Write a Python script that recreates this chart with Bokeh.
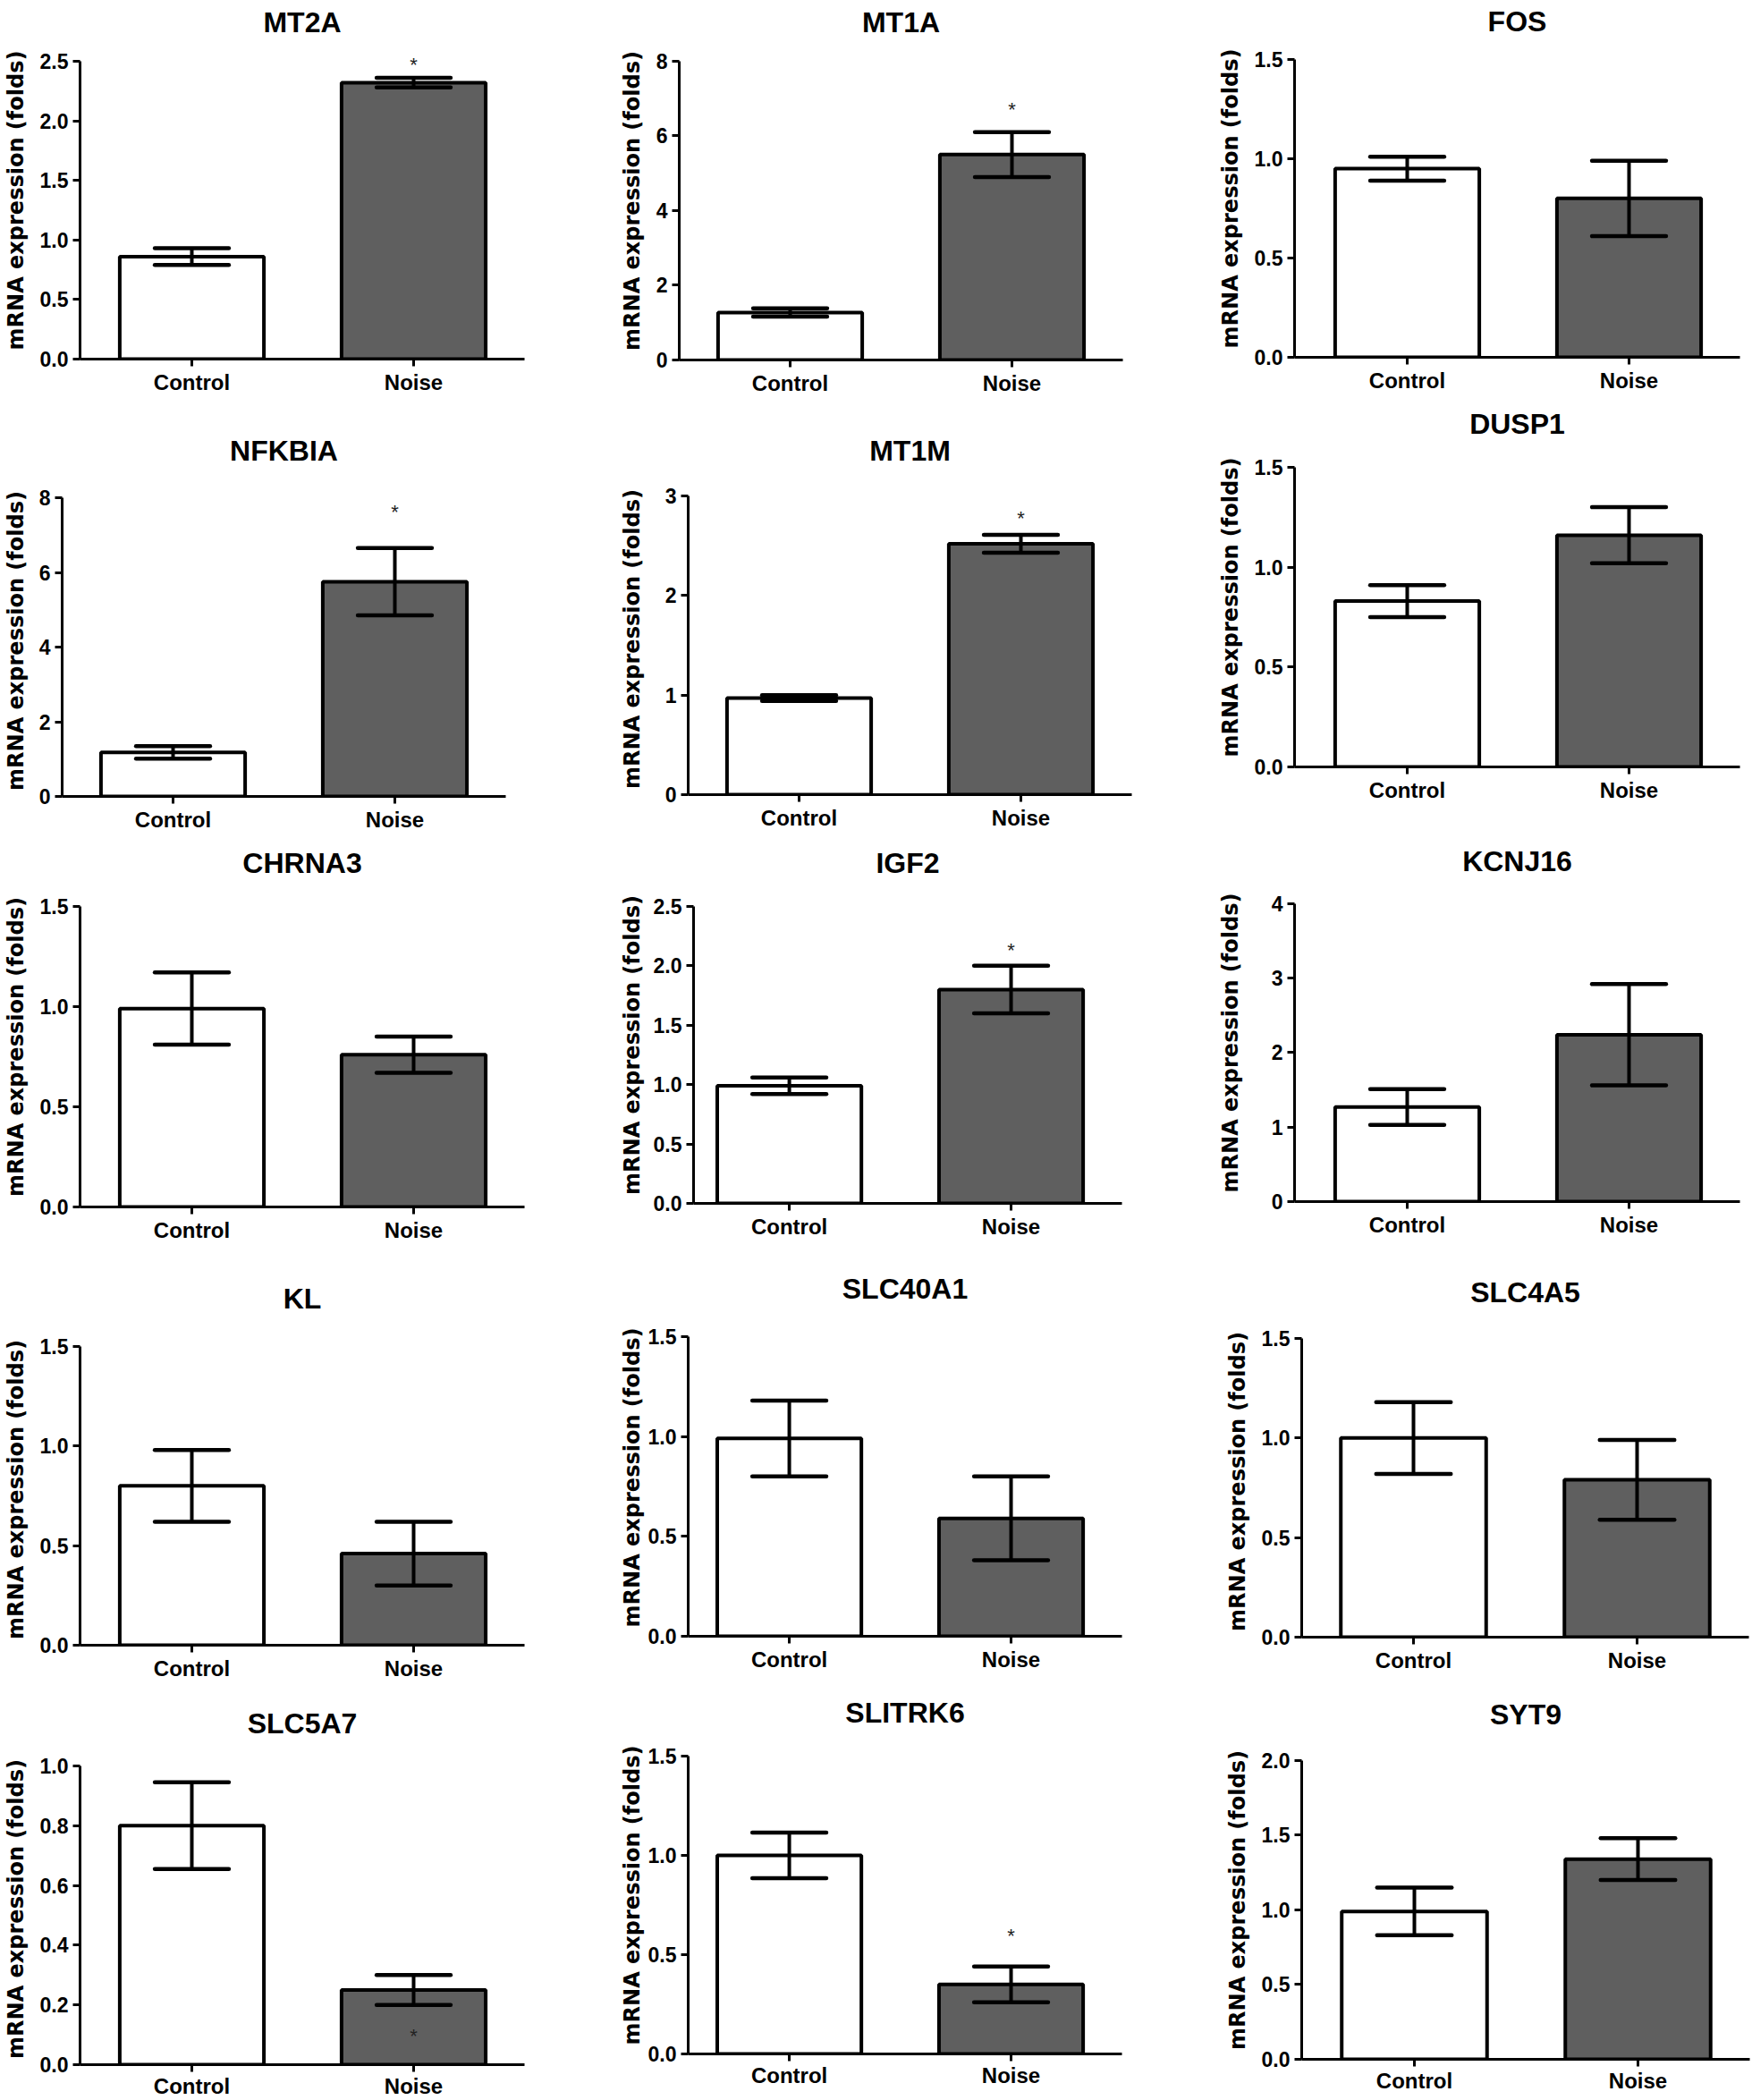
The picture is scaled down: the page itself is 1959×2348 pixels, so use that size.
from bokeh.plotting import figure
from bokeh.models import FixedTicker, Label, Range1d
from bokeh.layouts import row, column
from bokeh.embed import file_html
from bokeh.resources import INLINE

# ---------------- data ----------------
genes = ["MT2A", "MT1A", "FOS",
         "NFKBIA", "MT1M", "DUSP1",
         "CHRNA3", "IGF2", "KCNJ16",
         "KL", "SLC40A1", "SLC4A5",
         "SLC5A7", "SLITRK6", "SYT9"]
groups = ["Control", "Noise"]

y_max = [2.5, 8, 1.5,
         8, 3, 1.5,
         1.5, 2.5, 4,
         1.5, 1.5, 1.5,
         1.0, 1.5, 2.0]

y_ticks = [[0, 0.5, 1.0, 1.5, 2.0, 2.5], [0, 2, 4, 6, 8], [0, 0.5, 1.0, 1.5],
           [0, 2, 4, 6, 8], [0, 1, 2, 3], [0, 0.5, 1.0, 1.5],
           [0, 0.5, 1.0, 1.5], [0, 0.5, 1.0, 1.5, 2.0, 2.5], [0, 1, 2, 3, 4],
           [0, 0.5, 1.0, 1.5], [0, 0.5, 1.0, 1.5], [0, 0.5, 1.0, 1.5],
           [0, 0.2, 0.4, 0.6, 0.8, 1.0], [0, 0.5, 1.0, 1.5], [0, 0.5, 1.0, 1.5, 2.0]]

y_tick_labels = [["0.0", "0.5", "1.0", "1.5", "2.0", "2.5"], ["0", "2", "4", "6", "8"], ["0.0", "0.5", "1.0", "1.5"],
                 ["0", "2", "4", "6", "8"], ["0", "1", "2", "3"], ["0.0", "0.5", "1.0", "1.5"],
                 ["0.0", "0.5", "1.0", "1.5"], ["0.0", "0.5", "1.0", "1.5", "2.0", "2.5"], ["0", "1", "2", "3", "4"],
                 ["0.0", "0.5", "1.0", "1.5"], ["0.0", "0.5", "1.0", "1.5"], ["0.0", "0.5", "1.0", "1.5"],
                 ["0.0", "0.2", "0.4", "0.6", "0.8", "1.0"], ["0.0", "0.5", "1.0", "1.5"], ["0.0", "0.5", "1.0", "1.5", "2.0"]]

control_mean = [0.86, 1.27, 0.95,
                1.18, 0.97, 0.83,
                0.99, 0.99, 1.27,
                0.80, 0.99, 1.00,
                0.80, 1.00, 0.99]
control_sem = [0.07, 0.11, 0.06,
               0.17, 0.03, 0.08,
               0.18, 0.07, 0.24,
               0.18, 0.19, 0.18,
               0.145, 0.115, 0.16]
noise_mean = [2.32, 5.50, 0.80,
              5.75, 2.52, 1.16,
              0.76, 1.80, 2.24,
              0.46, 0.59, 0.79,
              0.25, 0.35, 1.34]
noise_sem = [0.04, 0.60, 0.19,
             0.90, 0.09, 0.14,
             0.09, 0.20, 0.68,
             0.16, 0.21, 0.20,
             0.05, 0.09, 0.14]
# height of the significance asterisk above Noise (None = no asterisk)
star_y = [2.49, 6.77, None,
          7.70, 2.80, None,
          None, 2.15, None,
          None, None, None,
          0.105, 0.61, None]

# ---------------- layout (page pixels, page origin = 0) ----------------
col_left = [0, 689, 1358]
col_width = [689, 669, 601]
row_bounds = [0, 445, 935, 1405, 1885, 2348]
axis_x = [85, 755, 1443,
          65, 765, 1443,
          85, 771, 1443,
          85, 765, 1455,
          85, 765, 1455]
ctrl_x = [211, 880, 1570,
          190, 890, 1570,
          211, 879, 1570,
          211, 879, 1580,
          211, 879, 1581]
label_cx = [17, 706, None]          # y-label glyph centre per column (None: axis - 68)
frame_top = [67, 67, 65,
             556, 554, 521,
             1012, 1012, 1009,
             1505, 1493, 1496,
             1974, 1962, 1967]
frame_zero = [401, 402, 399,
              890, 888, 857,
              1349, 1345, 1343,
              1839, 1829, 1830,
              2309, 2296, 2302]
title_cy = [15, 15, 15,
            506, 506, 472,
            963, 963, 958,
            1454, 1442, 1447,
            1929, 1913, 1914]
PX_PER_UNIT = 250.0
BAR_GRAY = "#5f5f5f"
TICK_FONT = "Liberation Sans"
YLAB_H = 28.0
TITLE_NEED = 37
TITLE_K = 15.5


def text_w(s, size=23):
    return sum(0.278 if ch == "." else 0.556 for ch in s) * size


rows = []
for r in range(5):
    figs = []
    rtop = row_bounds[r]
    rh = row_bounds[r + 1] - row_bounds[r]
    for c in range(3):
        i = r * 3 + c
        fl = col_left[c]
        fr = col_left[c] + col_width[c]
        A = axis_x[i]
        T = frame_top[i]
        Z = frame_zero[i]
        E = min(ctrl_x[i] + 1.5 * PX_PER_UNIT, fr)

        # title placement: text bottom sits standoff/2 above the frame top
        BB = title_cy[i] + TITLE_K
        pad = 14
        smax = T - pad - rtop - TITLE_NEED
        s = 2 * ((T - pad) - BB)
        if s > smax:
            pad = min(22, max(14, T + rtop + TITLE_NEED - 2 * BB))
            smax = T - pad - rtop - TITLE_NEED
            s = min(2 * ((T - pad) - BB), smax)
        s = max(0, s)

        mbl = A - fl
        mbr = fr - E
        top = T - pad
        mbt = top - rtop
        mbb = row_bounds[r + 1] - Z
        fh = Z - top
        x0 = 1 - (ctrl_x[i] - A) / PX_PER_UNIT
        x1 = 1 + (E - ctrl_x[i]) / PX_PER_UNIT
        y1 = y_max[i] * fh / (Z - T)

        p = figure(width=col_width[c], height=rh,
                   x_range=Range1d(x0, x1), y_range=Range1d(0, y1),
                   output_backend="svg", toolbar_location=None,
                   min_border_left=int(mbl), min_border_right=int(mbr),
                   min_border_top=int(mbt), min_border_bottom=int(mbb),
                   title=genes[i])
        p.frame_align = False
        p.title.align = "center"
        p.title.text_font = TICK_FONT
        p.title.text_font_style = "bold"
        p.title.text_font_size = "32px"
        p.title.text_color = "black"
        p.title.standoff = int(s)

        p.outline_line_color = None
        p.xgrid.grid_line_color = None
        p.ygrid.grid_line_color = None
        p.background_fill_color = "white"
        p.border_fill_color = "white"

        xs = [1, 2]
        means = [control_mean[i], noise_mean[i]]
        sems = [control_sem[i], noise_sem[i]]
        p.vbar(x=xs, top=means, width=0.65, bottom=0,
               fill_color=["white", BAR_GRAY], line_color="black", line_width=4)
        lo = [m - e for m, e in zip(means, sems)]
        hi = [m + e for m, e in zip(means, sems)]
        p.segment(x0=xs, y0=lo, x1=xs, y1=hi, line_color="black", line_width=4)
        cw = 0.167
        p.segment(x0=[x - cw for x in xs], y0=hi, x1=[x + cw for x in xs], y1=hi,
                  line_color="black", line_width=4.5, line_cap="round")
        p.segment(x0=[x - cw for x in xs], y0=lo, x1=[x + cw for x in xs], y1=lo,
                  line_color="black", line_width=4.5, line_cap="round")

        if star_y[i] is not None:
            p.add_layout(Label(x=2, y=star_y[i], text="*", text_align="center",
                               text_baseline="middle", text_font=TICK_FONT,
                               text_font_size="22px", text_color="#222222",
                               y_offset=-3))

        # x axis
        xa = p.xaxis[0]
        xa.ticker = FixedTicker(ticks=xs)
        xa.major_label_overrides = {1: groups[0], 2: groups[1]}
        xa.major_label_text_font = TICK_FONT
        xa.major_label_text_font_style = "bold"
        xa.major_label_text_font_size = "24px"
        xa.major_label_text_color = "black"
        xa.major_label_standoff = 2 if r == 4 else 4
        xa.major_tick_out = 8
        xa.major_tick_in = 0
        xa.minor_tick_out = 0
        xa.minor_tick_in = 0
        xa.axis_line_width = 3
        xa.major_tick_line_width = 3
        xa.axis_line_color = "black"
        xa.major_tick_line_color = "black"

        # y axis
        ya = p.yaxis[0]
        ya.bounds = (0, y_max[i])
        ya.ticker = FixedTicker(ticks=y_ticks[i])
        ya.major_label_overrides = {float(t): lab for t, lab in zip(y_ticks[i], y_tick_labels[i])}
        ya.major_label_text_font = TICK_FONT
        ya.major_label_text_font_style = "bold"
        ya.major_label_text_font_size = "23px"
        ya.major_label_text_color = "black"
        ya.major_label_standoff = 5
        ya.major_tick_out = 8
        ya.major_tick_in = 0
        ya.minor_tick_out = 0
        ya.minor_tick_in = 0
        ya.axis_line_width = 3
        ya.major_tick_line_width = 3
        ya.axis_line_color = "black"
        ya.major_tick_line_color = "black"
        ya.axis_label = "mRNA expression (folds)"
        ya.axis_label_text_font = "DejaVu Sans"
        ya.axis_label_text_font_style = "bold"
        ya.axis_label_text_font_size = "24px"
        ya.axis_label_text_color = "black"
        tw = max(text_w(t) for t in y_tick_labels[i])
        lc = label_cx[c] if label_cx[c] is not None else A - 68
        box_left = max(lc - 17, fl)
        s2 = (A - 13 - tw) - (box_left + YLAB_H) - 2
        ya.axis_label_standoff = int(max(0, s2))

        figs.append(p)
    rows.append(row(*figs, spacing=0))

layout = column(*rows, spacing=0)

with open("out.html", "w") as f:
    f.write(file_html(layout, INLINE))
